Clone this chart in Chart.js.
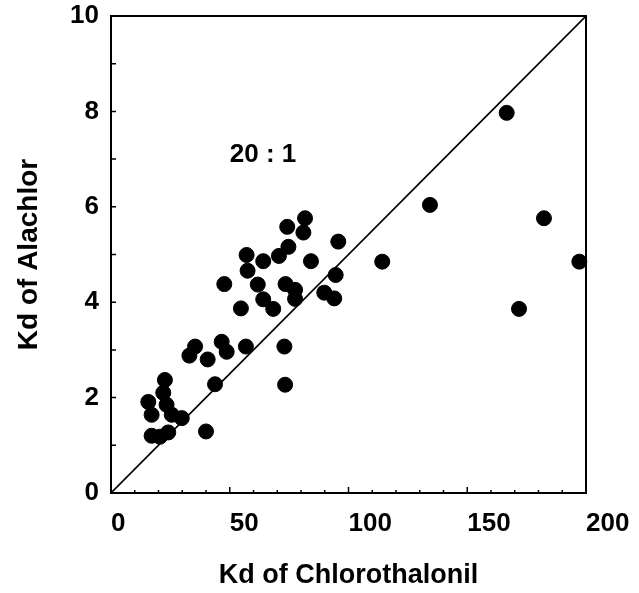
<!DOCTYPE html>
<html><head><meta charset="utf-8">
<script src="https://cdn.jsdelivr.net/npm/chart.js@4"></script>
<style>html,body{margin:0;padding:0;background:#fff}</style>
</head><body>
<canvas id="c" width="639" height="593"></canvas>
<script>
// Kd of Chlorothalonil (x) vs Kd of Alachlor (y)
const chlorothalonil = [22.7, 22.0, 15.7, 23.4, 17.1, 25.6, 29.8, 17.1, 24.1, 20.6, 40.0,
  43.8, 73.3, 35.4, 33.0, 40.7, 46.6, 48.7, 56.8, 73.0,
  47.7, 54.7, 61.8, 64.1, 68.3, 73.5, 77.5, 77.5, 57.1, 57.5, 64.1, 70.7, 74.7, 74.2, 81.0, 81.7, 84.2, 95.7, 94.6, 89.8, 94.0,
  114.2, 134.3, 166.6, 182.3, 197.2, 171.8];
const alachlor = [2.37, 2.10, 1.91, 1.85, 1.64, 1.64, 1.57, 1.20, 1.27, 1.18, 1.29,
  2.28, 2.27, 3.07, 2.88, 2.80, 3.17, 2.96, 3.07, 3.07,
  4.38, 3.87, 4.37, 4.06, 3.86, 4.38, 4.26, 4.07, 4.99, 4.66, 4.86, 4.97, 5.16, 5.58, 5.46, 5.76, 4.86, 5.27, 4.57, 4.20, 4.08,
  4.85, 6.04, 7.97, 5.76, 4.85, 3.86];
const refLineX = [0, 200];
const refLineY = [0, 10];
const xTickStep = 50, xMinorStep = 10;
const yTickStep = 2, yMinorStep = 1;
const ratioLabel = '20 : 1';
const ratioLabelX = 64, ratioLabelY = 7.1;

const FONT = '"Liberation Sans", Arial, Helvetica, sans-serif';

const framePlugin = {
  id: 'frame',
  beforeDatasetsDraw(chart) {
    const {ctx, chartArea: a, scales: {x, y}} = chart;
    ctx.save();
    ctx.strokeStyle = '#000';
    ctx.lineWidth = 2;
    ctx.strokeRect(a.left, a.top, a.right - a.left, a.bottom - a.top);
    ctx.lineWidth = 1.5;
    ctx.beginPath();
    for (let v = x.min + xMinorStep; v < x.max; v += xMinorStep) {
      const px = x.getPixelForValue(v);
      const len = (v % xTickStep === 0) ? 6 : 3;
      ctx.moveTo(px, a.bottom); ctx.lineTo(px, a.bottom - len);
    }
    for (let v = y.min + yMinorStep; v < y.max; v += yMinorStep) {
      const py = y.getPixelForValue(v);
      ctx.moveTo(a.left, py); ctx.lineTo(a.left + 5, py);
    }
    ctx.stroke();
    ctx.restore();
  },
  afterDatasetsDraw(chart) {
    const {ctx, scales: {x, y}} = chart;
    ctx.save();
    ctx.fillStyle = '#000';
    ctx.font = 'bold 26px ' + FONT;
    ctx.textAlign = 'center';
    ctx.textBaseline = 'middle';
    ctx.fillText(ratioLabel, x.getPixelForValue(ratioLabelX), y.getPixelForValue(ratioLabelY));
    ctx.restore();
  }
};

new Chart(document.getElementById('c'), {
  type: 'scatter',
  data: {
    datasets: [
      {
        type: 'line',
        data: refLineX.map((v, i) => ({x: v, y: refLineY[i]})),
        borderColor: '#000', borderWidth: 1.6, pointRadius: 0, fill: false, order: 2
      },
      {
        data: chlorothalonil.map((v, i) => ({x: v, y: alachlor[i]})),
        backgroundColor: '#000', borderColor: '#000', borderWidth: 1,
        pointRadius: 7.5, pointHoverRadius: 7.5, clip: false, order: 1
      }
    ]
  },
  options: {
    responsive: false, animation: false,
    layout: {padding: {left: 0, top: 16, right: 53, bottom: 0}},
    plugins: {legend: {display: false}, tooltip: {enabled: false}},
    scales: {
      x: {
        type: 'linear', min: 0, max: 200,
        afterFit(s) { s.height = 100; s.paddingLeft = 0; s.paddingRight = 0; },
        ticks: {stepSize: xTickStep, align: 'start', padding: 7, color: '#000', font: {family: FONT, size: 26, weight: 'bold'}},
        grid: {display: false},
        border: {display: true, color: '#000', width: 2},
        title: {display: true, text: 'Kd of Chlorothalonil', color: '#000', padding: {top: 0, bottom: 1}, font: {family: FONT, size: 27, weight: 'bold'}}
      },
      y: {
        type: 'linear', min: 0, max: 10,
        afterFit(s) { s.width = 111; s.paddingTop = 0; s.paddingBottom = 0; },
        ticks: {stepSize: yTickStep, padding: 4, color: '#000', font: {family: FONT, size: 26, weight: 'bold'}},
        grid: {display: false},
        border: {display: true, color: '#000', width: 2},
        title: {display: true, text: 'Kd of Alachlor', color: '#000', padding: {top: 12, bottom: 0}, font: {family: FONT, size: 28, weight: 'bold'}}
      }
    }
  },
  plugins: [framePlugin]
});
</script>
</body></html>
